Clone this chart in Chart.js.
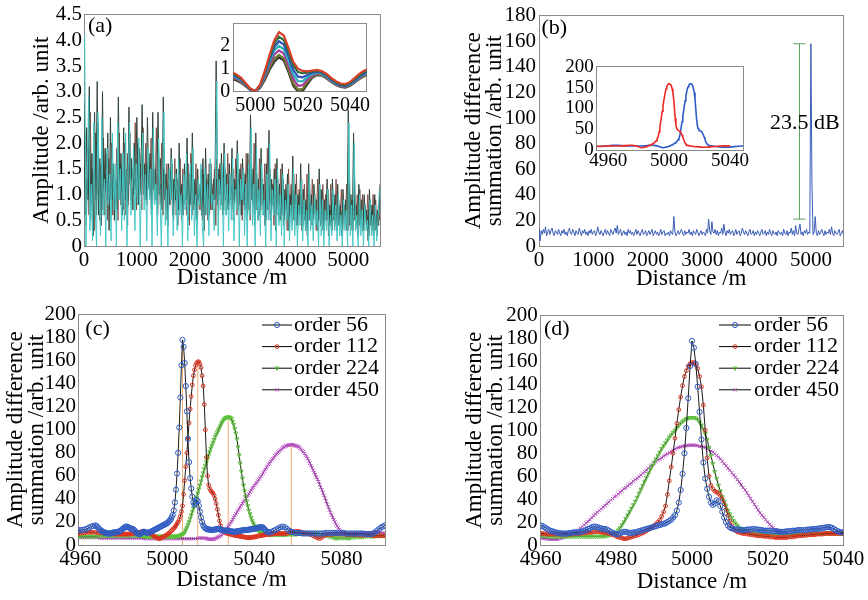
<!DOCTYPE html>
<html>
<head>
<meta charset="utf-8">
<script src="https://cdn.jsdelivr.net/npm/chart.js@4.4.1/dist/chart.umd.min.js"></script>
<style>
  body { margin: 0; background: #fff; width: 868px; height: 600px; position: relative; overflow: hidden; }
  canvas { position: absolute; }
</style>
</head>
<body>
<canvas id="chart-a" width="434" height="300" style="left:0;top:0"></canvas>
<canvas id="inset-a" width="185" height="110" style="left:195px;top:8px"></canvas>
<canvas id="chart-b" width="434" height="300" style="left:434px;top:0"></canvas>
<canvas id="inset-b" width="195" height="128" style="left:555px;top:52px"></canvas>
<canvas id="chart-c" width="434" height="300" style="left:0;top:300px"></canvas>
<canvas id="chart-d" width="434" height="300" style="left:434px;top:300px"></canvas>
<script>
// ---------- (a) raw amplitude traces, one sample every 25 m ----------
const stepA = 25;
const ampDark = [
  2.8, 0.6, 2.3, 0.9, 3.1, 0.5, 1.8, 0.2, 2.6, 0.9,
  3.2, 0.6, 1.7, 0.4, 3.0, 0.8, 1.9, 1.0, 2.2, 0.3,
  2.5, 0.9, 1.6, 0.5, 1.3, 0.7, 2.9, 1.1, 1.8, 0.6,
  2.3, 0.9, 1.5, 0.4, 2.7, 1.2, 1.7, 0.7, 2.0, 1.1,
  2.5, 0.8, 1.9, 1.3, 2.75, 1.0, 1.6, 0.9, 2.5, 1.2,
  1.8, 0.6, 2.6, 1.1, 1.5, 0.8, 2.6, 1.0, 1.7, 0.7,
  2.9, 0.9, 1.4, 0.5, 1.6, 0.8, 1.9, 0.6, 1.3, 0.9,
  1.5, 0.4, 2.0, 0.8, 1.2, 0.6, 1.6, 0.9, 2.1, 0.5,
  1.4, 0.8, 2.2, 0.7, 1.3, 0.5, 1.5, 0.9, 1.2, 0.6,
  1.7, 0.3, 1.9, 0.8, 1.4, 0.6, 1.6, 0.7, 1.3, 0.9,
  3.6, 0.8, 1.5, 1.0, 1.8, 0.6, 2.0, 0.9, 1.4, 0.7,
  1.6, 0.9, 1.9, 0.5, 1.3, 1.0, 2.05, 0.7, 1.5, 0.6,
  1.7, 0.8, 1.4, 0.5, 1.8, 0.7, 2.55, 0.9, 1.5, 0.4,
  2.2, 0.7, 1.3, 0.6, 1.9, 0.8, 1.2, 0.4, 1.6, 0.7,
  2.25, 0.5, 1.3, 0.8, 1.5, 0.3, 1.7, 0.6, 1.2, 0.5,
  1.6, 0.4, 1.1, 0.7, 1.4, 0.3, 1.0, 0.6, 1.75, 0.5,
  1.2, 0.4, 1.0, 0.6, 1.6, 0.3, 1.1, 0.5, 0.9, 0.2,
  1.6, 0.5, 1.0, 0.4, 1.2, 0.6, 0.9, 0.3, 1.5, 0.4,
  1.1, 0.3, 0.9, 0.5, 1.3, 0.2, 0.8, 0.4, 1.3, 0.5,
  1.0, 0.3, 1.2, 0.4, 0.8, 0.2, 1.1, 0.5, 0.9, 0.3,
  2.65, 0.4, 1.0, 0.3, 2.2, 0.5, 0.8, 0.2, 1.2, 0.4,
  0.9, 0.3, 1.0, 0.5, 0.7, 0.1, 1.1, 0.4, 0.8, 0.2,
  1.0, 0.3, 0.7, 0.4, 1.2
];
// sampled a quarter step later than ampDark: the dense core of the bundle
const ampCore = [
  1.6, 0.7, 1.3, 1.0, 1.9, 0.8, 1.4, 1.1, 1.7, 0.6,
  1.5, 1.0, 1.2, 0.8, 1.8, 1.1, 1.4, 0.9, 1.3, 0.7,
  1.2, 0.9, 1.5, 0.8, 1.1, 1.3, 1.6, 0.9, 1.2, 1.0,
  1.4, 1.1, 1.3, 0.8, 1.6, 1.2, 1.5, 1.0, 1.3, 1.1,
  1.7, 1.2, 1.4, 1.0, 1.8, 1.3, 1.2, 1.0, 1.6, 1.1,
  1.3, 0.9, 1.5, 1.2, 1.1, 0.8, 1.4, 1.1, 1.2, 0.8,
  1.5, 1.0, 1.1, 0.7, 1.2, 0.9, 1.3, 0.8, 1.0, 0.9,
  1.1, 0.7, 1.2, 0.9, 1.0, 0.8, 1.1, 0.9, 1.3, 0.7,
  1.0, 0.9, 1.3, 0.8, 1.0, 0.7, 1.1, 0.9, 1.0, 0.8,
  1.1, 0.6, 1.2, 0.9, 1.0, 0.8, 1.1, 0.8, 1.0, 0.9,
  1.3, 0.9, 1.1, 1.0, 1.2, 0.8, 1.3, 1.0, 1.1, 0.8,
  1.1, 1.0, 1.2, 0.8, 1.0, 1.1, 1.3, 0.9, 1.1, 0.8,
  1.1, 0.9, 1.0, 0.7, 1.2, 0.9, 1.4, 1.0, 1.1, 0.7,
  1.3, 0.8, 1.0, 0.8, 1.2, 0.9, 0.9, 0.7, 1.1, 0.8,
  1.2, 0.7, 1.0, 0.9, 1.1, 0.6, 1.1, 0.8, 0.9, 0.7,
  1.0, 0.6, 0.9, 0.8, 1.0, 0.6, 0.8, 0.7, 1.1, 0.6,
  0.9, 0.6, 0.8, 0.7, 1.0, 0.5, 0.8, 0.6, 0.7, 0.5,
  1.0, 0.6, 0.8, 0.6, 0.9, 0.7, 0.7, 0.5, 1.0, 0.6,
  0.8, 0.5, 0.7, 0.6, 0.9, 0.4, 0.7, 0.5, 0.9, 0.6,
  0.8, 0.5, 0.9, 0.5, 0.7, 0.4, 0.8, 0.6, 0.7, 0.5,
  1.2, 0.6, 0.8, 0.5, 1.0, 0.6, 0.7, 0.4, 0.9, 0.5,
  0.7, 0.5, 0.8, 0.6, 0.6, 0.3, 0.8, 0.5, 0.7, 0.4,
  0.7, 0.4, 0.6, 0.8
];
// sampled three quarters of a step later than ampDark
const ampRed = [
  2.2, 0.4, 1.9, 0.6, 2.6, 0.9, 1.5, 0.3, 2.2, 1.0,
  2.4, 0.5, 1.6, 0.7, 2.1, 0.6, 1.8, 0.5, 1.7, 0.9,
  2.0, 0.6, 1.4, 0.9, 1.9, 0.5, 2.2, 0.8, 1.5, 0.7,
  2.0, 0.6, 1.8, 0.9, 2.2, 0.8, 1.4, 1.0, 2.4, 0.7,
  2.0, 1.0, 1.6, 0.7, 2.3, 0.9, 2.0, 0.8, 1.7, 1.0,
  2.1, 0.7, 1.5, 0.9, 2.3, 0.6, 1.7, 0.8, 2.0, 0.6,
  1.9, 0.7, 1.6, 0.4, 1.4, 0.9, 1.6, 0.5, 1.7, 0.6,
  1.3, 0.7, 1.7, 0.5, 1.5, 0.8, 1.2, 0.6, 1.6, 0.4,
  1.8, 0.6, 1.4, 0.9, 1.6, 0.4, 1.2, 0.7, 1.5, 0.5,
  1.4, 0.6, 1.3, 0.5, 1.6, 0.7, 1.2, 0.9, 1.5, 0.4,
  1.7, 0.6, 1.6, 0.8, 1.4, 0.7, 1.5, 0.6, 1.8, 0.8,
  1.3, 0.7, 1.5, 0.9, 1.7, 0.6, 1.4, 0.8, 1.6, 0.5,
  1.5, 0.7, 1.8, 0.6, 1.3, 0.5, 1.6, 0.8, 2.0, 0.6,
  1.4, 0.5, 1.7, 0.7, 1.3, 0.6, 1.6, 0.5, 1.9, 0.6,
  1.5, 0.6, 1.2, 0.4, 1.6, 0.7, 1.3, 0.5, 1.5, 0.6,
  1.3, 0.5, 1.2, 0.3, 1.5, 0.6, 1.2, 0.4, 1.4, 0.5,
  1.4, 0.4, 1.1, 0.6, 1.3, 0.4, 1.2, 0.3, 1.4, 0.5,
  1.2, 0.4, 1.3, 0.5, 1.0, 0.3, 1.3, 0.5, 1.1, 0.4,
  1.2, 0.3, 1.0, 0.5, 1.1, 0.4, 1.2, 0.3, 1.0, 0.4,
  1.3, 0.3, 0.9, 0.5, 1.1, 0.3, 0.8, 0.4, 1.2, 0.3,
  1.5, 0.4, 0.9, 0.3, 1.3, 0.4, 1.0, 0.2, 1.1, 0.4,
  1.0, 0.3, 0.8, 0.4, 1.0, 0.2, 0.9, 0.3, 1.0, 0.3,
  0.9, 0.2, 0.8, 0.5
];
// sampled half a step later than ampDark
const ampCyan = [
  4.1, 0.0, 1.4, 2.9, 0.3, 1.2, 0.1, 2.4, 0.7, 0.0,
  2.6, 1.0, 0.2, 2.5, 0.6, 1.3, 0.0, 1.9, 0.8, 1.4,
  0.1, 2.2, 0.7, 1.6, 0.0, 2.4, 0.9, 1.5, 0.3, 1.8,
  0.5, 2.2, 0.0, 1.5, 2.4, 0.6, 1.1, 1.9, 0.3, 1.6,
  0.8, 2.1, 0.0, 1.3, 2.2, 0.7, 1.4, 0.1, 1.9, 0.9,
  1.5, 0.0, 2.3, 0.8, 1.2, 0.2, 2.1, 1.0, 0.0, 1.4,
  2.6, 0.4, 1.1, 0.0, 1.5, 0.9, 1.7, 0.2, 1.0, 1.4,
  0.3, 1.7, 0.6, 1.0, 0.0, 1.4, 0.7, 1.8, 0.1, 1.1,
  1.6, 0.5, 1.9, 0.2, 1.0, 0.0, 1.3, 0.8, 1.6, 0.4,
  0.0, 1.5, 0.6, 1.2, 0.2, 1.7, 0.8, 1.0, 0.3, 1.4,
  3.2, 0.2, 1.3, 0.7, 1.6, 0.0, 1.8, 0.6, 1.2, 0.3,
  1.4, 0.5, 1.7, 0.1, 1.1, 0.7, 1.8, 0.0, 1.3, 0.9,
  1.5, 0.2, 1.2, 0.0, 1.6, 0.6, 2.3, 0.4, 1.2, 0.0,
  1.9, 0.5, 1.1, 0.2, 1.6, 0.6, 0.9, 0.0, 1.4, 0.5,
  2.0, 0.1, 1.1, 0.6, 1.3, 0.0, 1.5, 0.4, 1.0, 0.2,
  1.4, 0.0, 0.9, 0.5, 1.2, 0.1, 0.8, 0.3, 1.5, 0.2,
  1.0, 0.0, 0.8, 0.4, 1.3, 0.1, 0.9, 0.3, 0.7, 0.0,
  1.4, 0.3, 0.8, 0.1, 1.0, 0.4, 0.7, 0.0, 1.2, 0.2,
  0.9, 0.0, 0.7, 0.3, 1.1, 0.0, 0.6, 0.2, 1.1, 0.3,
  0.8, 0.1, 1.0, 0.2, 0.6, 0.0, 0.9, 0.3, 0.7, 0.0,
  2.4, 0.2, 0.8, 0.0, 2.0, 0.3, 0.6, 0.0, 1.0, 0.2,
  0.7, 0.0, 0.8, 0.3, 0.5, 0.0, 0.9, 0.2, 0.6, 0.0,
  0.8, 0.1, 0.5, 1.1
];
const xTicksA = [0, 1000, 2000, 3000, 4000, 5000];
const yTicksA = [0, 0.5, 1, 1.5, 2, 2.5, 3, 3.5, 4, 4.5];
const yLabelsA = ["0", "0.5", "1.0", "1.5", "2.0", "2.5", "3.0", "3.5", "4.0", "4.5"];

// (a) inset: zoom around the event, one sample every 2 m from 4990 m
const insetAStart = 4990;
const insetAStep = 2;
const insetCurves = [
  [0.85, 0.75, 0.6, 0.35, 0.12, 0.02, 0.3, 0.9, 1.6, 2.25, 2.6, 2.45, 1.9, 1.3, 1.0, 0.9, 0.88, 0.92, 0.95, 0.9, 0.78, 0.6, 0.45, 0.35, 0.33, 0.42, 0.6, 0.78, 0.92, 1.0],
  [0.8, 0.7, 0.56, 0.32, 0.1, 0.03, 0.28, 0.85, 1.5, 2.1, 2.4, 2.25, 1.75, 1.15, 0.85, 0.8, 0.82, 0.88, 0.9, 0.86, 0.74, 0.56, 0.4, 0.3, 0.28, 0.38, 0.55, 0.72, 0.86, 0.95],
  [0.75, 0.66, 0.52, 0.3, 0.08, 0.02, 0.25, 0.78, 1.4, 1.95, 2.2, 2.05, 1.55, 0.95, 0.65, 0.62, 0.72, 0.82, 0.86, 0.82, 0.7, 0.52, 0.37, 0.27, 0.25, 0.34, 0.5, 0.67, 0.8, 0.9],
  [0.7, 0.62, 0.48, 0.27, 0.07, 0.02, 0.22, 0.72, 1.3, 1.8, 2.0, 1.85, 1.35, 0.75, 0.45, 0.45, 0.62, 0.76, 0.82, 0.78, 0.66, 0.49, 0.34, 0.25, 0.23, 0.31, 0.47, 0.63, 0.76, 0.86],
  [0.65, 0.57, 0.44, 0.25, 0.06, 0.01, 0.2, 0.65, 1.18, 1.62, 1.8, 1.65, 1.15, 0.55, 0.25, 0.28, 0.52, 0.7, 0.78, 0.75, 0.63, 0.46, 0.32, 0.23, 0.21, 0.29, 0.44, 0.6, 0.73, 0.83],
  [0.6, 0.53, 0.41, 0.23, 0.05, 0.0, 0.18, 0.58, 1.05, 1.45, 1.6, 1.45, 0.95, 0.35, 0.08, 0.12, 0.42, 0.64, 0.74, 0.72, 0.6, 0.44, 0.3, 0.21, 0.19, 0.27, 0.42, 0.57, 0.7, 0.8],
  [0.55, 0.48, 0.38, 0.22, 0.05, 0.0, 0.15, 0.5, 0.95, 1.3, 1.5, 1.35, 0.85, 0.25, 0.0, 0.02, 0.32, 0.6, 0.72, 0.7, 0.58, 0.42, 0.28, 0.2, 0.17, 0.25, 0.4, 0.55, 0.68, 0.78]
];
const insetColors = ["#d8402c", "#2e6b3a", "#3152bd", "#27b3b3", "#a8399f", "#6f7a2a", "#333333"];
const xTicksInsetA = [5000, 5020, 5040];
const yTicksInsetA = [0, 1, 2];

// ---------- (b) amplitude difference summation, one sample every 20 m ----------
const stepB = 20;
const sumB = [
  14, 4, 12, 9, 13, 10, 15, 8, 11, 13, 9, 12, 14, 10, 8, 12, 11, 9, 13, 10,
  8, 12, 10, 13, 9, 11, 8, 12, 14, 10, 9, 13, 11, 8, 12, 10, 9, 14, 11, 8,
  12, 10, 13, 9, 11, 8, 12, 10, 13, 9, 11, 12, 8, 10, 15, 11, 9, 12, 10, 8,
  11, 13, 9, 12, 10, 8, 13, 11, 9, 12, 14, 10, 16, 9, 11, 13, 8, 10, 12, 9,
  11, 8, 13, 10, 12, 9, 11, 8, 10, 13, 9, 12, 10, 8, 11, 13, 9, 10, 12, 8,
  10, 12, 9, 11, 13, 8, 10, 12, 9, 11, 8, 10, 13, 9, 11, 12, 8, 10, 9, 11,
  8, 12, 10, 9, 23, 11, 8, 10, 12, 9, 11, 13, 10, 8, 12, 9, 11, 10, 13, 9,
  11, 8, 12, 10, 9, 13, 11, 8, 10, 12, 9, 11, 10, 8, 13, 10, 21, 12, 9, 19,
  11, 10, 13, 9, 12, 8, 11, 10, 14, 9, 17, 11, 8, 12, 10, 13, 9, 11, 12, 8,
  10, 13, 9, 11, 12, 8, 10, 14, 11, 9, 12, 10, 8, 11, 13, 9, 10, 12, 8, 11,
  9, 12, 10, 8, 11, 13, 9, 10, 12, 8, 11, 9, 13, 10, 8, 12, 10, 9, 11, 8,
  12, 10, 9, 11, 8, 13, 10, 9, 12, 8, 11, 10, 14, 9, 12, 8, 16, 10, 9, 13,
  17, 9, 11, 8, 12, 10, 13, 9, 11, 10, 158, 48, 9, 11, 23, 10, 8, 12, 9, 11,
  13, 10, 8, 12, 9, 11, 10, 13, 9, 15, 10, 8, 12, 10, 9, 11, 13, 8, 10, 12,
  9
];
const xTicksB = [0, 1000, 2000, 3000, 4000, 5000];
const yTicksB = [0, 20, 40, 60, 80, 100, 120, 140, 160, 180];
const dbMarkerX = 4790;
const dbMarkerRange = [21, 158];
const dbLabel = "23.5 dB";
const dbLabelAt = [4890, 96];
const xTicksInsetB = [4960, 5000, 5040];
const yTicksInsetB = [0, 50, 100, 150, 200];
const insetRedPre = [8, 8.5, 9, 9, 8.5, 9, 9.5, 10];   // 4952 ... 4959 m
const insetBluePre = [9, 9, 8.5, 8.5, 9, 9.5, 10];     // 4952 ... 4958 m

// ---------- (c), (d) different orders, one sample every 0.5 m from 4960 m ----------
const orderLabels = ["order 56", "order 112", "order 224", "order 450"];
const distStartD = 4960;
const stepD = 0.5;
const d56 = [
  17, 16.5, 15.5, 14.5, 13.5, 12.5, 12, 11.5, 11, 10.5,
  10.5, 10, 10, 10, 10, 10.5, 10.5, 11, 11, 11,
  11, 11.5, 12, 12.5, 13, 14, 14.5, 15.5, 16, 16,
  15.5, 15, 14.5, 14, 14, 13.5, 12.5, 11.5, 10.5, 10,
  9.5, 9.5, 10, 11, 11.5, 11.5, 11, 10.5, 10.5, 11,
  11, 11.5, 12, 12.5, 13, 13.5, 14, 14.5, 15, 15.5,
  16, 16.5, 17, 17.5, 18, 18.5, 19, 20, 21, 22,
  24, 26, 30, 37, 48, 62, 80, 102, 128, 156,
  178, 172, 158, 138, 116, 92, 72, 58, 49, 42,
  37, 35, 36, 39, 38, 34, 29, 24, 20, 17,
  15.5, 14.5, 14, 13.5, 13.5, 13.5, 13, 13, 13, 13.5,
  13.5, 13.5, 14, 14, 13.5, 13.5, 13, 13, 12.5, 12.5,
  12.5, 12.5, 12.5, 12, 12, 12, 11.5, 11.5, 11.5, 11.5,
  12, 12, 12, 12.5, 12.5, 12.5, 13, 13, 13, 13,
  13, 13.5, 13.5, 13.5, 14, 14, 14, 14.5, 14.5, 15,
  15, 15.5, 15.5, 15.5, 15, 14, 13, 12, 11.5, 11,
  11
];
const d112 = [
  10, 10, 10, 9.5, 9.5, 9.5, 9.5, 9.5, 9.5, 9.5,
  9.5, 9.5, 9.5, 9.5, 9.5, 9.5, 9.5, 9.5, 10, 10,
  10, 10, 10.5, 10.5, 10.5, 11, 11, 11, 11.5, 11.5,
  11.5, 11.5, 11, 11, 10.5, 10.5, 10, 9.5, 9, 8.5,
  7.5, 7, 6.5, 6, 5.5, 5.5, 6, 6.5, 7, 7.5,
  8, 8.5, 9, 10, 10.5, 11.5, 12.5, 13.5, 14.5, 15.5,
  17, 18.5, 20, 22, 25, 29, 34, 44, 56, 68,
  80, 93, 106, 118, 129, 139, 147, 152, 156, 158,
  159, 159, 157, 154, 147, 138, 122, 100, 76, 60,
  52, 49, 47, 46, 45, 43, 40, 36, 31, 26,
  21, 17, 14, 12.5, 11.5, 11, 10.5, 10, 10, 9.5,
  9.5, 9, 9, 8.5, 8.5, 8, 8, 8, 7.5, 7.5,
  7.5, 7, 7, 7, 6.5, 6.5, 6.5, 6.5, 6.5, 6.5,
  6.5, 7, 7, 7, 7.5, 7.5, 8, 8, 8, 8.5,
  8.5, 8.5, 9, 9, 9, 9, 9.5, 9.5, 9.5, 9.5,
  10, 10, 10, 10, 10, 10, 10, 10, 10, 10,
  10
];
const d224 = [
  8, 8, 8, 8, 7.5, 7.5, 7.5, 7.5, 7.5, 7.5,
  7.5, 7.5, 7.5, 7.5, 7.5, 7.5, 7.5, 7.5, 7.5, 7.5,
  7.5, 7.5, 7.5, 7.5, 7.5, 7.5, 7.5, 7.5, 7.5, 7.5,
  7.5, 7.5, 7.5, 7.5, 8, 8, 8.5, 9, 9.5, 10,
  11, 13, 15, 17.5, 20, 23, 26, 29, 32, 35,
  38, 41.5, 45, 48.5, 52, 55.5, 59, 62.5, 66, 69,
  72, 75, 78, 81, 84, 86.5, 89, 91.5, 94, 96,
  98, 100, 102, 104, 106, 107.5, 109, 110, 110.5, 111,
  111, 111, 110.5, 109.5, 107, 104.5, 101, 97, 92, 85,
  78, 71, 64, 58, 52, 47, 42, 38, 34, 30,
  27, 24, 21, 19, 17, 15, 14, 13, 12, 11.5,
  11, 10.5, 10, 10, 9.5, 9.5, 9.5, 9, 9, 9,
  9, 9, 9, 9, 9, 9, 9, 9, 9, 9,
  9, 9, 9, 9, 9.5, 9.5, 9.5, 9.5, 9.5, 9.5,
  9.5, 9.5, 9.5, 9.5, 10, 10, 10, 10, 10, 10,
  10, 10, 10, 10, 10, 10, 10, 10, 10, 10,
  10
];
const d450 = [
  6, 6, 5.5, 5.5, 5, 5, 5, 5, 5, 5,
  5.5, 6, 6.5, 7, 7.5, 8, 9, 10, 11, 12,
  13, 14.5, 16, 17.5, 19, 20.5, 22, 24, 25.5, 27,
  28.5, 30, 31.5, 33, 34.5, 36, 37.5, 39, 40.5, 42,
  43, 44.5, 46, 47.5, 49, 50, 51.5, 53, 54, 55.5,
  57, 58, 59.5, 61, 62.5, 64, 65.5, 67, 68.5, 70,
  71, 72.5, 74, 75, 76, 77.5, 78.5, 79.5, 80.5, 81.5,
  82.5, 83.5, 84.5, 85, 85.5, 86, 86.5, 86.5, 87, 87,
  87, 87, 87, 86.5, 86, 86, 85.5, 85, 84, 83,
  82, 81, 79.5, 78, 76.5, 75, 73, 71, 69, 67,
  65, 63, 61, 59, 57, 55, 52.5, 50, 48, 45.5,
  43, 40.5, 38, 35.5, 33, 30.5, 28, 26, 24, 22,
  20, 18, 16.5, 15, 13.5, 12.5, 11.5, 11, 10.5, 10,
  10, 9.5, 9.5, 9.5, 9.5, 9.5, 9.5, 10, 10, 10,
  10, 10, 10, 10, 10, 10, 10, 10.5, 10.5, 10.5,
  10.5, 10.5, 10.5, 10.5, 10.5, 10.5, 10.5, 10.5, 11, 11,
  11
];
// (c): the same traces before correction sit further out; extra samples every 1 m
const shiftC = [7, 14, 28, 57];
const preStartC = 4959;
const c56pre = [12.5, 13, 13, 13.5, 14, 15, 16, 16.5];
const c112pre = [10, 10, 10.5, 10.5, 11, 11, 11, 11, 11, 10.5, 10.5, 10.5, 10, 10, 10];
const c224pre = [7.5, 7.5, 7.5, 7.5, 7.5, 7.5, 7.5, 7.5, 7.5, 7.5, 8, 8, 8, 8, 8, 8, 8, 8, 8, 8, 8, 8, 8, 8, 8, 8, 8, 8, 8];
const c450pre = [
  6.5, 6.5, 6.5, 6.5, 6.5, 6.5, 6.5, 6.5, 6.5, 6.5,
  6, 6, 6, 6, 6, 6, 6, 6, 6, 6,
  6, 6, 6, 6, 6, 6, 6, 6, 6, 6,
  5.5, 5.5, 5.5, 5.5, 5.5, 5.5, 5.5, 5.5, 5.5, 5.5,
  5.5, 5.5, 5.5, 5.5, 5.5, 5.5, 5.5, 5.5, 5.5, 5.5,
  5.5, 5.5, 5.5, 5.5, 5.5, 6, 6, 6
];
const c56post = [
  11.5, 12.5, 13.5, 14.5, 15.5, 16, 15.5, 14, 12.5, 11.5,
  11, 10.5, 10.5, 10.5, 10, 10, 10, 10, 10, 10,
  10, 10, 10, 10, 10, 10.5, 10.5, 10.5, 10.5, 10.5,
  10.5, 10.5, 10.5, 10.5, 10, 10, 10, 10, 10, 10,
  10, 10, 10, 9.5, 9.5, 9.5, 9.5, 10.5, 12, 13.5,
  15, 16, 17
];
const c112post = [
  10, 10.5, 11, 11.5, 12, 12, 11.5, 11, 10.5, 10,
  9.5, 9, 8, 7, 6, 5.5, 6.5, 8, 9, 9,
  9, 9.5, 9.5, 9.5, 9.5, 9.5, 9.5, 9, 9, 9,
  9, 9, 9, 8.5, 8.5, 8.5, 8.5, 8.5, 8.5, 8.5,
  8, 8, 8, 8, 8, 8
];
const c224post = [
  9.5, 9, 9, 8.5, 8, 7.5, 7, 6.5, 6, 6,
  6, 6, 6, 6, 6, 6, 6.5, 6.5, 7, 7,
  7, 7, 7.5, 7.5, 7.5, 7.5, 7.5, 8, 8, 8,
  8, 8
];
const c450post = [10.5, 10.5, 10];
const peakXC = [5007, 5014, 5028, 5057];
const peakYC = [178, 159, 111, 87];
const xTicksC = [4960, 5000, 5040, 5080];
const xTicksD = [4960, 4980, 5000, 5020, 5040];
const yTicksCD = [0, 20, 40, 60, 80, 100, 120, 140, 160, 180, 200];

// ---------- styling ----------
const SERIF = "'Liberation Serif', 'Times New Roman', serif";
const FRAME = "#8a8a8a";
const markerColors = ["#2f5cc4", "#e0321e", "#5cc43a", "#b64ec0"];
const markerStyles = ["circle", "circle", "triangle", "crossRot"];
const markerRotation = [0, 0, 180, 0];
const markerRadius = [2.6, 1.9, 2.3, 2.4];

Chart.defaults.font.family = SERIF;
Chart.defaults.color = "#000";

function frameScale(position) {
  return {
    type: "linear",
    position,
    display: true,
    grid: { display: false, drawTicks: false },
    ticks: { display: false },
    border: { display: true, color: FRAME, width: 1 },
    afterFit(scale) {
      if (position === "top") scale.height = 0;
      else scale.width = 0;
    },
  };
}

function buildOptions(cfg) {
  const tickFont = { family: SERIF, size: cfg.tickSize || 21 };
  const titleFont = { family: SERIF, size: 23, lineHeight: cfg.titleLineHeight || 1 };
  return {
    responsive: false,
    animation: false,
    devicePixelRatio: 1,
    events: [],
    layout: {
      autoPadding: false,
      padding: { top: cfg.top, right: cfg.right, left: 0, bottom: 0 },
    },
    plugins: { legend: { display: false }, tooltip: { enabled: false } },
    scales: {
      x: {
        type: "linear",
        min: cfg.xMin,
        max: cfg.xMax,
        afterBuildTicks(scale) {
          scale.ticks = cfg.xTicks.map((value) => ({ value }));
        },
        afterFit(scale) {
          scale.height = cfg.bottom;
        },
        grid: { display: false, drawTicks: false },
        border: { display: true, color: FRAME, width: 1 },
        ticks: {
          font: tickFont,
          padding: cfg.xPad,
          maxRotation: 0,
          autoSkip: false,
          callback: (value) => String(value),
        },
        title: cfg.xTitle
          ? { display: true, text: cfg.xTitle, font: titleFont, padding: { top: 0, bottom: cfg.xTitlePad } }
          : { display: false },
      },
      y: {
        type: "linear",
        min: cfg.yMin,
        max: cfg.yMax,
        afterBuildTicks(scale) {
          scale.ticks = cfg.yTicks.map((value) => ({ value }));
        },
        afterFit(scale) {
          scale.width = cfg.left;
        },
        grid: { display: false, drawTicks: false },
        border: { display: true, color: FRAME, width: 1 },
        ticks: {
          font: tickFont,
          padding: cfg.yPad,
          autoSkip: false,
          callback: (value, index) => (cfg.yLabels ? cfg.yLabels[index] : String(value)),
        },
        title: cfg.yTitle
          ? { display: true, text: cfg.yTitle, font: titleFont, padding: { top: cfg.yTitlePad, bottom: 0 } }
          : { display: false },
      },
      xTop: frameScale("top"),
      yRight: frameScale("right"),
    },
  };
}

const whiteArea = {
  id: "whiteArea",
  beforeDraw(chart) {
    const { ctx, chartArea: a } = chart;
    ctx.save();
    ctx.fillStyle = "#fff";
    ctx.fillRect(a.left, a.top, a.right - a.left, a.bottom - a.top);
    ctx.restore();
  },
};

function panelTag(text, dx, dy) {
  return {
    id: "panelTag",
    afterDraw(chart) {
      const { ctx, chartArea } = chart;
      ctx.save();
      ctx.font = `22px ${SERIF}`;
      ctx.fillStyle = "#000";
      ctx.textBaseline = "middle";
      ctx.fillText(text, chartArea.left + dx, chartArea.top + dy);
      ctx.restore();
    },
  };
}

function orderLegend(lineStart, lineEnd, textX, rowY, rowStep) {
  return {
    id: "orderLegend",
    afterDraw(chart) {
      const { ctx } = chart;
      ctx.save();
      orderLabels.forEach((label, i) => {
        const y = rowY + i * rowStep;
        ctx.strokeStyle = "#000";
        ctx.lineWidth = 1;
        ctx.beginPath();
        ctx.moveTo(lineStart, y);
        ctx.lineTo(lineEnd, y);
        ctx.stroke();
        ctx.strokeStyle = markerColors[i];
        ctx.fillStyle = "rgba(0,0,0,0)";
        Chart.helpers.drawPoint(ctx, {
          pointStyle: markerStyles[i],
          rotation: markerRotation[i],
          radius: markerRadius[i],
          borderWidth: 1,
        }, (lineStart + lineEnd) / 2, y);
        ctx.fillStyle = "#000";
        ctx.font = `22px ${SERIF}`;
        ctx.textBaseline = "middle";
        ctx.fillText(label, textX, y);
      });
      ctx.restore();
    },
  };
}

const dbMarker = {
  id: "dbMarker",
  afterDatasetsDraw(chart) {
    const { ctx, scales } = chart;
    const x = scales.x.getPixelForValue(dbMarkerX);
    const yLow = scales.y.getPixelForValue(dbMarkerRange[0]);
    const yHigh = scales.y.getPixelForValue(dbMarkerRange[1]);
    ctx.save();
    ctx.strokeStyle = "#5a9e5e";
    ctx.lineWidth = 1;
    ctx.beginPath();
    ctx.moveTo(x, yLow);
    ctx.lineTo(x, yHigh);
    ctx.moveTo(x - 6, yLow);
    ctx.lineTo(x + 6, yLow);
    ctx.moveTo(x - 6, yHigh);
    ctx.lineTo(x + 6, yHigh);
    ctx.stroke();
    ctx.fillStyle = "#000";
    ctx.font = `22px ${SERIF}`;
    ctx.textAlign = "center";
    ctx.textBaseline = "middle";
    ctx.fillText(dbLabel, scales.x.getPixelForValue(dbLabelAt[0]), scales.y.getPixelForValue(dbLabelAt[1]));
    ctx.restore();
  },
};

function linePoints(values, start, step) {
  return values.map((y, i) => ({ x: start + i * step, y }));
}

function shiftedPoints(pre, main, post, shift) {
  const points = linePoints(pre, preStartC, 1);
  main.forEach((y, i) => points.push({ x: distStartD + shift + i * stepD, y }));
  const postStart = distStartD + (main.length - 1) * stepD + shift + 1;
  post.forEach((y, i) => points.push({ x: postStart + i, y }));
  return points;
}

function traceDataset(points, color, width) {
  return { data: points, borderColor: color, borderWidth: width, pointRadius: 0, tension: 0 };
}

function orderDataset(i, points) {
  return {
    label: orderLabels[i],
    data: points,
    borderColor: "#000",
    borderWidth: 0.9,
    tension: 0,
    pointStyle: markerStyles[i],
    pointRotation: markerRotation[i],
    pointRadius: markerRadius[i],
    pointBorderColor: markerColors[i],
    pointBackgroundColor: "rgba(0,0,0,0)",
    pointBorderWidth: 1,
  };
}

// ---------- (a) ----------
new Chart(document.getElementById("chart-a"), {
  type: "line",
  data: {
    datasets: [
      traceDataset(linePoints(ampCyan, stepA / 2, stepA), "#45c8c6", 1),
      traceDataset(linePoints(ampDark, 0, stepA), "#33443a", 1),
      traceDataset(linePoints(ampCore, stepA / 4, stepA), "#3e4a3e", 1),
      traceDataset(linePoints(ampRed, stepA * 3 / 4, stepA), "#7c4a42", 0.9),
    ],
  },
  options: buildOptions({
    top: 13, right: 54, left: 84, bottom: 54,
    xMin: 0, xMax: 5600, xTicks: xTicksA, xPad: 2,
    yMin: 0, yMax: 4.5, yTicks: yTicksA, yLabels: yLabelsA, yPad: 2,
    xTitle: "Distance /m", xTitlePad: 10.5,
    yTitle: "Amplitude /arb. unit", yTitlePad: 30,
  }),
  plugins: [panelTag("(a)", 4, 12)],
});

new Chart(document.getElementById("inset-a"), {
  type: "line",
  data: {
    datasets: insetCurves.map((curve, i) =>
      traceDataset(linePoints(curve, insetAStart, insetAStep), insetColors[i], 2.2)),
  },
  options: buildOptions({
    top: 11.3, right: 13.3, left: 38.3, bottom: 26.5, tickSize: 20,
    xMin: 4990.7, xMax: 5047, xTicks: xTicksInsetA, xPad: 2,
    yMin: 0, yMax: 3, yTicks: yTicksInsetA, yPad: 3,
  }),
  plugins: [whiteArea],
});

// ---------- (b) ----------
new Chart(document.getElementById("chart-b"), {
  type: "line",
  data: { datasets: [traceDataset(linePoints(sumB, 0, stepB), "#3a5cb6", 1)] },
  options: buildOptions({
    top: 13, right: 24.5, left: 105, bottom: 54,
    xMin: 0, xMax: 5600, xTicks: xTicksB, xPad: 2,
    yMin: 0, yMax: 180, yTicks: yTicksB, yPad: 3,
    xTitle: "Distance /m", xTitlePad: 10.5,
    yTitle: ["Amplitude difference", "summation /arb. unit"], yTitlePad: 30, titleLineHeight: 0.9,
  }),
  plugins: [panelTag("(b)", 2.5, 12.7), dbMarker],
});

const insetRed = linePoints(insetRedPre, 4952, 1).concat(linePoints(d112, distStartD, stepD));
const insetBlue = linePoints(insetBluePre, 4952, 1).concat(shiftedPoints(c112pre, d112, c112post, shiftC[1]));
new Chart(document.getElementById("inset-b"), {
  type: "line",
  data: {
    datasets: [
      traceDataset(insetRed, "#ee2a24", 1.6),
      traceDataset(insetBlue, "#2f5cc4", 1.6),
    ],
  },
  options: buildOptions({
    top: 14.7, right: 7, left: 41.7, bottom: 30, tickSize: 19,
    xMin: 4952.5, xMax: 5048.5, xTicks: xTicksInsetB, xPad: 0,
    yMin: 0, yMax: 200, yTicks: yTicksInsetB, yPad: 3,
  }),
  plugins: [whiteArea],
});

// ---------- (c) ----------
const seriesC = [
  shiftedPoints(c56pre, d56, c56post, shiftC[0]),
  shiftedPoints(c112pre, d112, c112post, shiftC[1]),
  shiftedPoints(c224pre, d224, c224post, shiftC[2]),
  shiftedPoints(c450pre, d450, c450post, shiftC[3]),
];
const peakLines = peakXC.map((x, i) => ({
  data: [{ x, y: 0 }, { x, y: peakYC[i] }],
  borderColor: "#f2ad74",
  borderWidth: 1,
  pointRadius: 0,
}));
new Chart(document.getElementById("chart-c"), {
  type: "line",
  data: { datasets: seriesC.map((points, i) => orderDataset(i, points)).concat(peakLines) },
  options: buildOptions({
    top: 10, right: 49, left: 78, bottom: 55,
    xMin: 4959, xMax: 5100, xTicks: xTicksC, xPad: 2,
    yMin: 0, yMax: 200, yTicks: yTicksCD, yPad: 2,
    xTitle: "Distance /m", xTitlePad: 9.5,
    yTitle: ["Amplitude difference", "summation /arb. unit"], yTitlePad: 6, titleLineHeight: 0.9,
  }),
  plugins: [panelTag("(c)", 7.3, 15), orderLegend(262, 292, 294, 25, 21.6)],
});

// ---------- (d) ----------
const seriesD = [d56, d112, d224, d450].map((values) => linePoints(values, distStartD, stepD));
new Chart(document.getElementById("chart-d"), {
  type: "line",
  data: { datasets: seriesD.map((points, i) => orderDataset(i, points)) },
  options: buildOptions({
    top: 10, right: 24.7, left: 106.7, bottom: 55,
    xMin: 4960, xMax: 5040, xTicks: xTicksD, xPad: 2,
    yMin: 0, yMax: 200, yTicks: yTicksCD, yPad: 3,
    xTitle: "Distance /m", xTitlePad: 7.5,
    yTitle: ["Amplitude difference", "summation /arb. unit"], yTitlePad: 31, titleLineHeight: 0.9,
  }),
  plugins: [panelTag("(d)", 3.3, 13.7), orderLegend(285, 317, 320, 25, 21.6)],
});
</script>
</body>
</html>
